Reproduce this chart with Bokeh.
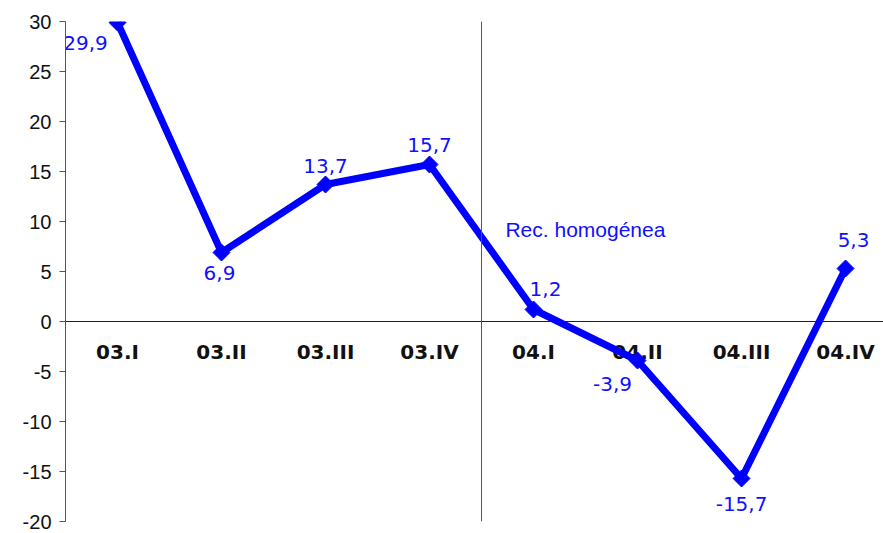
from bokeh.plotting import figure
from bokeh.models import ColumnDataSource, Span, Range1d, FixedTicker, Label
from bokeh.core.properties import value
from bokeh.embed import file_html
from bokeh.resources import INLINE

categories = ["03.I", "03.II", "03.III", "03.IV", "04.I", "04.II", "04.III", "04.IV"]
values = [29.9, 6.9, 13.7, 15.7, 1.2, -3.9, -15.7, 5.3]
value_labels = ["29,9", "6,9", "13,7", "15,7", "1,2", "-3,9", "-15,7", "5,3"]
y_ticks = [-20, -15, -10, -5, 0, 5, 10, 15, 20, 25, 30]
note_text = "Rec. homogénea"

# label placement (screen pixels) - styling only
lab_dx = [-32, -2, 0, 0, 12, -25, 0, 8]
lab_dy = [20, 20, -19, -20, -21, 23, 25, -29]

xs = list(range(len(categories)))
src = ColumnDataSource(dict(x=xs, y=values, lab=value_labels, dx=lab_dx, dy=lab_dy,
                            cat=categories, zero=[0] * len(xs)))

p = figure(width=883, height=533, output_backend="svg", toolbar_location=None,
           x_range=Range1d(-0.5, 7.365), y_range=Range1d(-20, 30),
           x_axis_location=None, min_border_left=65, min_border_right=0,
           min_border_top=21, min_border_bottom=12)
p.outline_line_color = None
p.xgrid.visible = False
p.ygrid.visible = False

yax = p.yaxis[0]
yax.ticker = FixedTicker(ticks=y_ticks)
yax.major_label_overrides = {t: str(t) for t in y_ticks}
yax.minor_tick_line_color = None
yax.major_tick_in = 0
yax.major_tick_out = 6
yax.axis_line_color = "#555555"
yax.major_tick_line_color = "#555555"
yax.major_label_text_font = "Liberation Sans"
yax.major_label_text_font_size = "20px"
yax.major_label_text_color = "#111111"
yax.major_label_standoff = 8

p.add_layout(Span(location=0, dimension="width", line_color="#222222", line_width=1))
p.add_layout(Span(location=3.5, dimension="height", line_color="#555555", line_width=1))

p.text(x="x", y="zero", text="cat", source=src, y_offset=30,
       text_font=value("DejaVu Sans"), text_font_style="bold", text_font_size="20px",
       text_color="#111111", text_align="center", text_baseline="middle")

p.line(x="x", y="y", source=src, line_color="#0000FF", line_width=7)
p.scatter(x="x", y="y", source=src, marker="square", angle=0.785398, size=12,
          fill_color="#0000FF", line_color="#0000FF")

p.text(x="x", y="y", text="lab", source=src, x_offset="dx", y_offset="dy",
       text_font=value("DejaVu Sans"), text_font_size="20px", text_color="#1010FF",
       text_align="center", text_baseline="middle")

p.add_layout(Label(x=3.73, y=9.2, text=note_text, text_font="Liberation Sans",
                   text_font_size="21px", text_color="#1010FF",
                   text_align="left", text_baseline="middle"))

open("out.html", "w").write(file_html(p, INLINE))
